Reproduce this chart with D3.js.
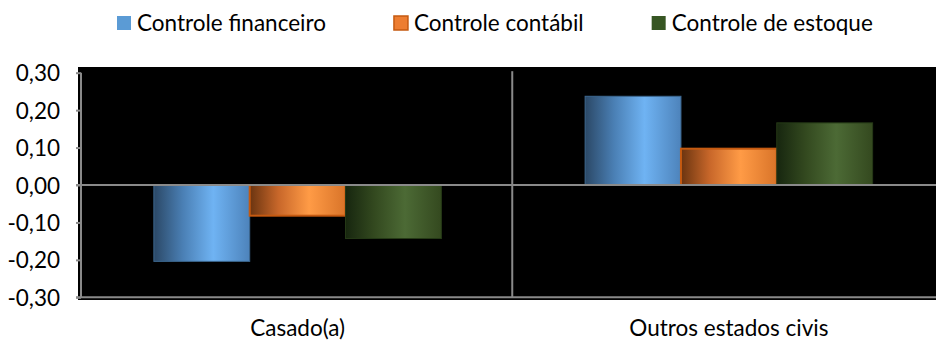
<!DOCTYPE html>
<html>
<head>
<meta charset="utf-8">
<script src="https://cdn.jsdelivr.net/npm/d3@7"></script>
<style>
  html, body { margin: 0; padding: 0; background: #ffffff; }
  svg { display: block; }
  text { font-family: Lato, "Open Sans", "Noto Sans", sans-serif; fill: #000; }
</style>
</head>
<body>
<svg id="chart" width="936" height="342"></svg>
<script>
// Categories and series
const categories = ["Casado(a)", "Outros estados civis"];
const seriesNames = ["Controle financeiro", "Controle contábil", "Controle de estoque"];
const financeiro = [-0.204, 0.237];
const contabil = [-0.082, 0.097];
const estoque = [-0.143, 0.166];
const yTicks = [0.30, 0.20, 0.10, 0.00, -0.10, -0.20, -0.30];

const seriesValues = [financeiro, contabil, estoque];

// Visual styling per series: gradient stops (left → right) and edge colour
const seriesStyle = [
  { stops: ["#2b4866", "#4a7fb4", "#6fb3f3", "#4d83bb"], edge: "#3d6890", swatch: "#5b9bd5" },
  { stops: ["#6a3410", "#c8672a", "#ff9b46", "#d97429"], edge: "#c55a11", swatch: "#ed7d31" },
  { stops: ["#17260f", "#33491f", "#4c6a35", "#34491f"], edge: "#263a17", swatch: "#375623" }
];

const svg = d3.select("#chart");
const W = 936;

// Plot geometry
const plotLeft = 81, plotRight = 943.5, yTop = 72.7, yBottom = 297.3;

const y = d3.scaleLinear().domain([-0.30, 0.30]).range([yBottom, yTop]);
const x0 = d3.scaleBand().domain(categories).range([plotLeft, plotRight]).paddingInner(0).paddingOuter(0);
const x1 = d3.scaleBand().domain(seriesNames).range([0, x0.bandwidth()]).paddingInner(0).paddingOuter(0.75);

// Gradients
const defs = svg.append("defs");
seriesStyle.forEach((s, i) => {
  const g = defs.append("linearGradient").attr("id", "grad" + i)
    .attr("x1", "0%").attr("x2", "100%").attr("y1", "0%").attr("y2", "0%");
  const offs = [0, 0.3, 0.62, 1];
  s.stops.forEach((c, k) => g.append("stop").attr("offset", offs[k]).attr("stop-color", c));
});

// Plot area background
svg.append("rect")
  .attr("x", 78).attr("y", 67)
  .attr("width", W - 78).attr("height", 300 - 67)
  .attr("fill", "#000000");

const axisColor = "#8a8a8a";

// Category separators
const sepX = [x0.range()[0] + x0.step()];
svg.selectAll("line.sep").data(sepX).join("line")
  .attr("class", "sep")
  .attr("x1", d => d).attr("x2", d => d)
  .attr("y1", yTop - 1.5).attr("y2", yBottom)
  .attr("stroke", axisColor).attr("stroke-width", 2);

// Bars
const groups = svg.append("g").selectAll("g").data(categories).join("g")
  .attr("transform", d => `translate(${x0(d) + 1},0)`);

groups.each(function(cat, ci) {
  const g = d3.select(this);
  seriesNames.forEach((s, si) => {
    const v = seriesValues[si][ci];
    const yv = y(v), y0 = y(0);
    g.append("rect")
      .attr("x", x1(s))
      .attr("y", Math.min(yv, y0))
      .attr("width", x1.bandwidth())
      .attr("height", Math.abs(yv - y0))
      .attr("fill", `url(#grad${si})`)
      .attr("stroke", seriesStyle[si].edge)
      .attr("stroke-width", si === 1 ? 2 : 1);
  });
});

// Zero line (category axis)
svg.append("line")
  .attr("x1", plotLeft - 5).attr("x2", W)
  .attr("y1", y(0)).attr("y2", y(0))
  .attr("stroke", axisColor).attr("stroke-width", 2);

// Bottom border line
svg.append("line")
  .attr("x1", plotLeft - 5).attr("x2", W)
  .attr("y1", yBottom).attr("y2", yBottom)
  .attr("stroke", axisColor).attr("stroke-width", 2);

// Value axis
const fmt = v => d3.format(".2f")(v).replace(".", ",").replace("−", "-");
const yAxis = d3.axisLeft(y).tickValues(yTicks).tickSize(5).tickPadding(16).tickFormat(fmt);
const ya = svg.append("g").attr("transform", `translate(${plotLeft},0)`).call(yAxis);
ya.attr("font-family", null);
ya.select(".domain").attr("stroke", axisColor).attr("stroke-width", 2)
  .attr("d", `M0,${yTop}V${yBottom}`);
ya.selectAll(".tick line").attr("stroke", axisColor).attr("stroke-width", 2);
ya.selectAll(".tick text")
  .attr("font-size", 22.5).attr("fill", "#000")
  .attr("dy", "0.36em");

// Category labels
svg.append("g").selectAll("text").data(categories).join("text")
  .attr("x", d => x0(d) + x0.bandwidth() / 2 + 1)
  .attr("y", 336)
  .attr("text-anchor", "middle")
  .attr("font-size", 22.5)
  .text(d => d);

// Legend
const legend = svg.append("g");
const items = legend.selectAll("g").data(seriesNames).join("g");
items.append("rect")
  .attr("width", 14).attr("height", 14)
  .attr("y", 16)
  .attr("fill", (d, i) => seriesStyle[i].swatch)
  .attr("stroke", (d, i) => i === 1 ? "#c55a11" : "none")
  .attr("stroke-width", 1.5);
items.append("text")
  .attr("x", 20).attr("y", 30.5)
  .attr("font-size", 22.5)
  .text(d => d);

const gap = 68;
const widths = [];
items.each(function() { widths.push(this.getBBox().width); });
let cx = 117;
items.attr("transform", (d, i) => {
  const t = `translate(${cx},0)`;
  cx += widths[i] + gap;
  return t;
});
</script>
</body>
</html>
